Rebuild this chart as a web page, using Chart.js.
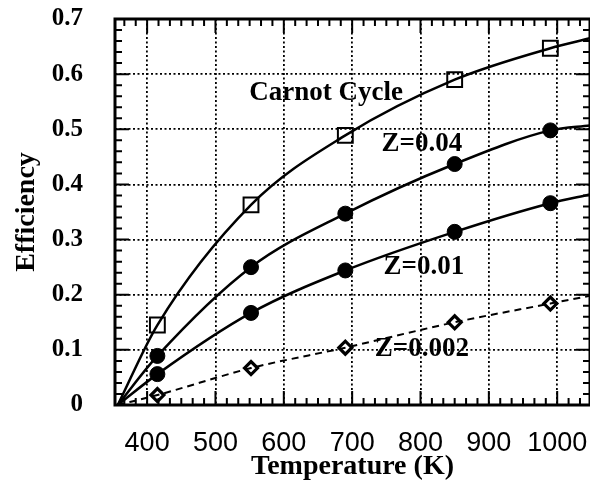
<!DOCTYPE html>
<html>
<head>
<meta charset="utf-8">
<script src="https://cdn.jsdelivr.net/npm/chart.js@4.4.0/dist/chart.umd.min.js"></script>
<style>
  html, body { margin: 0; padding: 0; background: #fff; }
  #wrap { width: 590px; height: 485px; }
</style>
</head>
<body>
<div id="wrap"><canvas id="chart"></canvas></div>
<script>
// temperatures (K) where the markers sit
const temps = [415, 552, 690, 850, 990];

// efficiency at each marker
const carnot = [0.145, 0.363, 0.489, 0.590, 0.647];
const z04 = [0.089, 0.250, 0.347, 0.437, 0.498];
const z01 = [0.056, 0.167, 0.244, 0.314, 0.366];
const z002 = [0.018, 0.067, 0.104, 0.150, 0.184];

// curves start at zero and run off the right edge
const startT = 357;
const endT = 1048;
const endValues = [0.665, 0.507, 0.382, 0.198]; // carnot, z04, z01, z002

// axes
const xMin = 353;
const xMax = 1048;
const xTicks = [400, 500, 600, 700, 800, 900, 1000];
const yTicks = [0, 0.1, 0.2, 0.3, 0.4, 0.5, 0.6, 0.7];

// in-plot labels
const noteText = ['Carnot Cycle', 'Z=0.04', 'Z=0.01', 'Z=0.002'];
const noteT = [662, 802, 805, 802];
const noteEff = [0.565, 0.474, 0.25, 0.102];

function curve(vals, end) {
    return [{x: startT, y: 0}]
        .concat(temps.map((t, i) => ({x: t, y: vals[i]})))
        .concat([{x: endT, y: end}]);
}

function markers(vals) {
    return temps.map((t, i) => ({x: t, y: vals[i]}));
}

const lineStyle = {
    showLine: true,
    pointRadius: 0,
    borderColor: '#000',
    borderWidth: 2.5,
    cubicInterpolationMode: 'monotone',
    fill: false
};

// Chart.js reserves room for overhanging tick labels, we don't want that here
function noPad(s) {
    s.paddingTop = 0;
    s.paddingBottom = 0;
    s.paddingLeft = 0;
    s.paddingRight = 0;
}

// inward ticks on all four sides plus the frame
const framePlugin = {
    id: 'frame',
    afterDatasetsDraw(chart) {
        const {ctx, chartArea: a, scales: {x, y}} = chart;
        ctx.save();
        ctx.strokeStyle = '#000';
        ctx.lineWidth = 2;
        ctx.beginPath();
        const xStep = 100 / 6;
        for (let k = Math.ceil((xMin - 400) / xStep); 400 + k * xStep <= xMax; k++) {
            const px = x.getPixelForValue(400 + k * xStep);
            const len = k % 6 === 0 ? 14 : 7;
            ctx.moveTo(px, a.bottom);
            ctx.lineTo(px, a.bottom - len);
            ctx.moveTo(px, a.top);
            ctx.lineTo(px, a.top + len);
        }
        for (let k = 0; k <= 35; k++) {
            const py = y.getPixelForValue(k * 0.02);
            const len = k % 5 === 0 ? 14 : 7;
            ctx.moveTo(a.left, py);
            ctx.lineTo(a.left + len, py);
            ctx.moveTo(a.right, py);
            ctx.lineTo(a.right - len, py);
        }
        ctx.stroke();
        ctx.lineWidth = 3;
        ctx.strokeRect(a.left, a.top, a.width, a.height);
        ctx.restore();
    }
};

const notePlugin = {
    id: 'notes',
    afterDraw(chart) {
        const {ctx, scales: {x, y}} = chart;
        ctx.save();
        ctx.fillStyle = '#000';
        ctx.font = 'bold 27px "Liberation Serif"';
        ctx.textAlign = 'center';
        ctx.textBaseline = 'middle';
        noteText.forEach((txt, i) => {
            ctx.fillText(txt, x.getPixelForValue(noteT[i]), y.getPixelForValue(noteEff[i]));
        });
        ctx.restore();
    }
};

new Chart(document.getElementById('chart'), {
    type: 'scatter',
    data: {
        datasets: [
            Object.assign({data: curve(carnot, endValues[0])}, lineStyle),
            Object.assign({data: curve(z04, endValues[1])}, lineStyle),
            Object.assign({data: curve(z01, endValues[2])}, lineStyle),
            Object.assign({data: curve(z002, endValues[3])}, lineStyle, {borderWidth: 2, borderDash: [7, 5]}),
            {
                data: markers(carnot), pointStyle: 'rect', pointRadius: 10.5,
                borderWidth: 2, pointBorderColor: '#000', pointBackgroundColor: 'rgba(0,0,0,0)'
            },
            {
                data: markers(z04), pointStyle: 'circle', pointRadius: 7.5,
                borderWidth: 1, pointBorderColor: '#000', pointBackgroundColor: '#000'
            },
            {
                data: markers(z01), pointStyle: 'circle', pointRadius: 7.5,
                borderWidth: 1, pointBorderColor: '#000', pointBackgroundColor: '#000'
            },
            {
                data: markers(z002), pointStyle: 'rectRot', pointRadius: 6.5,
                borderWidth: 3.2, pointBorderColor: '#000', pointBackgroundColor: '#fff'
            }
        ]
    },
    options: {
        responsive: true,
        maintainAspectRatio: false,
        animation: false,
        events: [],
        layout: {autoPadding: false, padding: {top: 19, right: 0, left: 0, bottom: 0}},
        plugins: {legend: {display: false}, tooltip: {enabled: false}},
        scales: {
            x: {
                type: 'linear',
                min: xMin,
                max: xMax,
                afterBuildTicks: s => { s.ticks = xTicks.map(v => ({value: v})); },
                afterFit: s => { s.height = 80; noPad(s); },
                grid: {color: '#000', lineWidth: 1.8, drawTicks: false},
                border: {display: false, dash: [2, 2.5]},
                ticks: {
                    color: '#000',
                    padding: 22,
                    maxRotation: 0,
                    callback: v => String(v),
                    font: {family: '"Liberation Sans", Arial', size: 27}
                },
                title: {
                    display: true,
                    text: 'Temperature (K)',
                    color: '#000',
                    padding: {top: 0, bottom: 4},
                    font: {family: '"Liberation Serif"', weight: 'bold', size: 28, lineHeight: 1}
                }
            },
            y: {
                type: 'linear',
                min: 0,
                max: 0.7,
                afterBuildTicks: s => { s.ticks = yTicks.map(v => ({value: v})); },
                afterFit: s => { s.width = 115; noPad(s); },
                grid: {color: '#000', lineWidth: 1.8, drawTicks: false},
                border: {display: false, dash: [2, 2.5]},
                ticks: {
                    color: '#000',
                    padding: 32,
                    callback: v => v === 0 ? '0' : v.toFixed(1),
                    font: {family: '"Liberation Serif"', weight: 'bold', size: 25}
                },
                title: {
                    display: true,
                    text: 'Efficiency',
                    color: '#000',
                    padding: {top: 13, bottom: 0},
                    font: {family: '"Liberation Serif"', weight: 'bold', size: 28, lineHeight: 1}
                }
            }
        }
    },
    plugins: [framePlugin, notePlugin]
});
</script>
</body>
</html>
